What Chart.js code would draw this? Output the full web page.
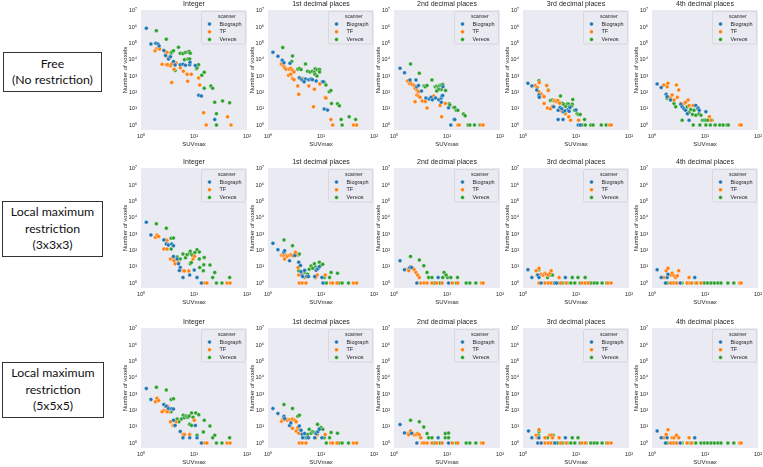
<!DOCTYPE html>
<html>
<head>
<meta charset="utf-8">
<script src="https://cdn.jsdelivr.net/npm/chart.js@4.4.1/dist/chart.umd.min.js"></script>
<style>
  body { margin: 0; background: #fff; }
  #wrap { position: relative; width: 763px; height: 467px; overflow: hidden; }
  #wrap canvas { position: absolute; }
  .rowlab {
    position: absolute; box-sizing: border-box; border: 1px solid #333;
    display: flex; align-items: center; justify-content: center; text-align: center;
    font-family: Lato, "Noto Sans", sans-serif; font-size: 12.3px; line-height: 16.5px; color: #111;
  }
</style>
</head>
<body>
<div id="wrap">
  <div class="rowlab" style="left:3px;top:52px;width:99px;height:40px">Free<br>(No restriction)</div>
  <div class="rowlab" style="left:2px;top:201px;width:101px;height:56px">Local maximum<br>restriction<br>(3x3x3)</div>
  <div class="rowlab" style="left:2px;top:362px;width:102px;height:56px">Local maximum<br>restriction<br>(5x5x5)</div>
</div>
<script>
// scanners and panel titles
const scanners = ['Biograph', 'TF', 'Vereos'];
const colTitles = ['Integer', '1st decimal places', '2nd decimal places', '3rd decimal places', '4th decimal places'];
const xTicks = [1, 10, 100];
const yTicks = [1, 10, 100, 1e3, 1e4, 1e5, 1e6, 1e7];

// ---- Free (no restriction) : [SUVmax, number of voxels]
const freeIntBio = [[1.26,8.5e5],[1.54,9e4],[1.9,1e5],[2.1,9e4],[2.2,7e4],[2.7,3.6e4],[2.9,1.8e4],[3.3,1.1e4],[3.6,1.5e4],[4.1,7.8e3],[4.4,4.8e3],[5.5,5e3],[6.2,5.2e3],[6.9,4.6e3],[8.3,5e3],[8.4,7e3],[10.6,4.4e3],[12.3,66],[13.8,60],[24.6,2.2]];
const freeIntTF = [[1.84,3.5e4],[2.0,5e4],[2.15,5e4],[2.25,4.5e4],[2.9,2.9e4],[3.1,2.9e4],[2.5,5.3e3],[3.0,5e3],[3.2,5e3],[3.3,1.4e4],[3.6,4.2e3],[3.8,5.5e3],[3.8,400],[4.2,2.6e3],[4.4,6.3e3],[4.6,6.3e3],[5.5,3.2e3],[6.3,2e3],[7.4,1.3e3],[7.6,480],[8.9,1.3e3],[12.2,760],[12.8,280],[15.2,5.7],[17,1],[43,3.2],[50,1]];
const freeIntVer = [[1.95,6e5],[3.0,1.8e5],[3.7,2.5e4],[3.8,3e4],[4.1,3.5e4],[5.1,5.8e4],[5.5,2.5e4],[6.2,2.4e4],[6.9,2.8e4],[7.6,3e4],[8.1,3.2e4],[8.5,2.5e4],[6.6,1e4],[7.7,1.1e4],[8.3,1.1e4],[4.4,2.2e3],[11.1,2.8e3],[11.4,3.2e3],[12.2,5e3],[14,1.1e3],[15.6,1.7e3],[15.6,180],[20.8,250],[22.5,180],[24.6,25],[34.6,30],[47,23],[26.5,5],[26.5,1]];

const freeD1Bio = [[1.24,2.9e4],[1.54,1.6e4],[1.86,9.3e3],[2.0,6.6e3],[2.6,6e3],[3.9,800],[4.2,650],[4.5,550],[5.1,650],[5.9,600],[6.5,650],[6.9,600],[8.1,500],[4.8,450],[10.6,450],[11.0,450],[11.5,9.6],[13.3,8.3]];
const freeD1TF = [[1.78,5.5e3],[1.9,4.5e3],[2.0,4e3],[2.05,3.2e3],[2.2,2.6e3],[2.5,2.6e3],[2.7,3e3],[2.9,2.3e3],[2.45,1.1e3],[2.7,1.3e3],[3.1,1.8e3],[2.9,700],[3.1,600],[3.65,250],[3.8,76],[3.9,730],[4.5,700],[4.9,600],[5.9,250],[7.5,155],[7.2,13],[9.5,330],[12,48],[12.4,45],[15.4,2.2],[16.6,1],[41,1],[47,1]];
const freeD1Ver = [[1.9,5.5e4],[2.9,1.7e4],[2.8,7.8e3],[3.65,2.6e3],[3.9,2.9e3],[4.2,2.5e3],[5.1,5.5e3],[5.6,2e3],[6.2,1.8e3],[6.9,2e3],[7.5,1.8e3],[7.8,2.8e3],[8.5,2.4e3],[9.4,2.5e3],[9.4,1.8e3],[7.7,1.3e3],[8.4,1e3],[11.5,420],[12.4,280],[14.3,110],[15.4,130],[15.8,21],[20.5,20],[22.2,15],[24,2.2],[25,1],[34,3.2],[45,2.2]];

const freeD2Bio = [[1.3,3e3],[1.58,1.6e3],[2.0,580],[2.6,580],[2.7,220],[2.9,260],[3.3,120],[4.0,45],[4.6,40],[5.0,50],[5.3,35],[6.1,45],[7.0,35],[7.8,45],[8.0,60],[8.3,65],[7.8,25],[8.4,220],[10.7,11.5],[13.6,2.2],[14,2.2],[11.8,1]];
const freeD2TF = [[1.8,500],[1.95,350],[2.05,420],[2.2,300],[2.4,260],[2.5,180],[2.7,140],[2.9,110],[2.7,70],[2.9,60],[3.1,50],[2.5,27],[3.4,30],[3.9,28],[4.2,11],[5.2,50],[5.6,60],[7.4,16],[7.9,3.2],[9.3,21],[16,1],[17,1],[45,1],[48,1]];
const freeD2Ver = [[2.05,5.5e3],[3.0,1.5e3],[3.7,250],[3.9,220],[4.2,260],[5.2,580],[6.0,220],[6.4,240],[6.9,220],[7.3,260],[7.8,280],[8.3,300],[7.8,150],[6.9,150],[6.4,120],[9.4,130],[11,20],[11.3,17],[13.4,12],[14,12],[15,8],[16,8],[20.5,4.7],[22,3.7],[25,1],[27,1],[33,1],[42,1]];

const freeD3Bio = [[1.24,360],[1.47,250],[1.82,140],[2.0,69],[2.03,50],[3.8,13],[4.6,8],[5.0,12],[5.4,10],[5.8,6.5],[6.2,7.5],[7.1,9],[7.7,12],[7.4,7],[4.6,2.2],[5.7,2.2],[10,8.3],[11,1],[12,1]];
const freeD3TF = [[1.7,260],[1.85,200],[2.03,400],[2.0,110],[2.2,80],[2.4,60],[2.5,55],[2.8,260],[3.0,130],[2.5,21],[2.9,11],[3.3,10],[3.6,14],[3.9,32],[4.2,28],[4.5,32],[4.9,22],[5.1,12],[5.4,7],[6.3,5],[7.3,3.2],[7.9,2],[11.2,2],[43,1],[46,1]];
const freeD3Ver = [[2.0,520],[3.0,140],[3.3,32],[3.6,34],[3.85,30],[5.1,60],[4.7,28],[5.5,22],[5.9,18],[6.4,14],[6.9,20],[7.3,19],[7.5,14],[8.7,37],[8.5,19],[8.2,14],[9.4,8],[10.5,5],[11.2,4.5],[12,4.5],[14.5,2.2],[13,1],[15,1],[19,1],[21,1],[30,1],[37,1]];

const freeD4Bio = [[1.25,330],[1.49,200],[1.85,76],[1.93,55],[2.24,34],[3.5,19],[3.7,13],[4.0,10],[4.3,8],[4.65,5],[5.0,2],[6.7,16],[7.4,11],[7.8,8],[10.4,6.6]];
const freeD4TF = [[1.67,280],[1.93,220],[2.0,360],[2.1,50],[2.24,45],[2.4,70],[2.6,34],[3.0,50],[2.9,280],[3.2,140],[3.5,21],[4.0,21],[4.3,25],[4.8,34],[5.0,16],[6.0,16],[12.1,3.2],[13,2],[45,1],[48,1]];
const freeD4Ver = [[1.93,44],[2.6,21],[2.8,13],[3.7,2],[4.3,8],[4.6,13],[5.0,6],[5.4,9],[5.8,4.5],[6.2,8],[6.7,4],[7.2,10],[7.7,5],[8.4,4],[9,2],[9.7,2],[10.4,2],[11.3,2],[13.5,2],[6,1],[8,1],[10.4,1],[12.6,1],[15.5,1],[19,1],[22,1],[26,1],[27.5,1],[48,1]];

// ---- Local maximum restriction 3x3x3
const lm3IntBio = [[1.26,5.3e3],[1.54,880],[2.7,440],[3.0,245],[3.3,215],[3.8,250],[4.1,195],[4.1,43],[4.8,30],[5.1,15],[5.5,9],[5.3,5.8],[6.2,2.2],[8.3,3.1],[10.1,6.3],[11.4,2.2],[13.8,1]];
const lm3IntTF = [[1.87,630],[2.0,870],[2.15,720],[2.9,460],[3.1,400],[3.2,245],[3.0,245],[2.7,120],[3.1,120],[3.6,30],[4.0,36],[4.2,23],[4.4,15],[5.1,19],[6.2,5.7],[6.6,5.5],[8,5.5],[9.6,30],[10.2,44],[16,1],[17.5,1],[42,1],[48,1]];
const lm3IntVer = [[1.95,4.2e3],[3.0,2.3e3],[3.7,550],[4.1,570],[3.7,120],[4.8,40],[5.5,30],[6.2,60],[6.9,35],[7.4,55],[8.3,65],[8.5,90],[8.9,60],[9.4,50],[10.4,75],[11.4,110],[12.6,80],[12.6,30],[8.5,15],[8.9,18],[12.8,9],[15,5.7],[15.3,13],[15.6,37],[20,12.7],[22.5,2.2],[24.6,4.5],[26.5,1],[33.7,1],[47,2.2]];

const lm3D1Bio = [[1.24,270],[1.54,110],[2.0,76],[2.06,95],[2.55,23],[3.2,48],[3.8,19],[4.1,12],[4.2,5],[4.4,3],[4.5,2.5],[4.9,6],[5.4,2.5],[5.8,2.5],[7.6,2.5],[8.1,6],[8.7,7.5],[9.3,10],[10.4,2.2],[10.9,1]];
const lm3D1TF = [[1.8,50],[1.9,55],[2.0,47],[2.2,50],[2.3,43],[2.55,50],[2.7,55],[2.9,47],[3.2,60],[3.4,55],[2.06,30],[3.3,76],[3.8,19],[3.7,9],[3.8,3.1],[4.4,3.5],[4.9,2.2],[3.9,1],[4.4,1],[5.2,1],[7.9,2.2],[8.5,3.1],[12,3.1],[15.3,1],[16.6,1],[20,1],[41,1],[47,1]];
const lm3D1Ver = [[2.0,440],[2.9,195],[3.65,52],[3.9,60],[3.8,5.7],[4.9,4.5],[5.6,3.5],[6.0,7],[6.5,11],[7.0,8],[7.5,15],[8.0,9.5],[8.6,8],[9.3,19],[10.0,12.5],[10.8,14],[7.8,2.2],[11.5,2.2],[14.5,2.2],[15.5,4.5],[20.5,4],[12.6,1],[21.7,1],[25,1],[33,1]];

const lm3D2Bio = [[1.3,23],[1.58,6.6],[2.0,9],[2.14,9],[2.7,1],[6.8,2.2],[10.7,1]];
const lm3D2TF = [[1.85,7.2],[1.9,5.7],[2.05,10.5],[2.3,8],[2.4,6.6],[2.6,4.5],[2.8,3.1],[3.0,2.2],[3.2,1],[3.7,1],[4.2,1],[5.2,1],[6.4,1],[8.1,1],[12.6,1],[16,1],[45,1],[48,1]];
const lm3D2Ver = [[2.05,43],[3.0,26],[3.65,11.5],[4.2,4.5],[4.5,2.2],[5.2,2.2],[8.3,2.2],[10.3,2.2],[11.8,2.2],[15.8,2.2],[8.8,4.5],[9.6,3.1],[5.8,1],[7.4,1],[15,1],[23,1],[27,1],[35,1],[45,1]];

const lm3D3Bio = [[1.24,6.6],[1.47,2.2],[1.9,3.1],[2.0,2.2],[2.2,1],[4.0,1],[4.3,1],[6.3,2.2]];
const lm3D3TF = [[1.77,5.7],[2.0,8],[1.85,3.1],[2.2,3.5],[2.4,3.1],[2.6,4],[2.75,3.5],[3.0,3.1],[3.25,4],[3.4,5.7],[4.8,2.2],[2.0,1],[2.6,1],[3.0,1],[3.4,1],[3.9,1],[5.1,1],[6.5,1],[12.9,1],[14.9,1],[17,1],[40,1],[46,1]];
const lm3D3Ver = [[2.0,6.6],[2.9,2.2],[3.3,3.1],[3.6,3.1],[8.5,2.2],[10.9,2.2],[14.9,2.2],[3.6,1],[4.5,1],[5.5,1],[6.8,1],[8,1],[9.5,1],[12,1],[15.5,1],[19,1],[22,1],[25,1],[31,1],[38,1]];

const lm3D4Bio = [[1.25,6.6],[1.49,2.2],[1.93,2.2],[2.0,3.5],[6.4,2.2],[1.8,1],[3.4,1]];
const lm3D4TF = [[1.67,2.2],[1.85,5.7],[2.0,8],[2.24,3.1],[2.4,4],[2.6,2.8],[2.8,2.2],[3.0,2.8],[3.2,5.7],[5.0,2.2],[2.24,1],[2.6,1],[2.9,1],[3.5,1],[4.6,1],[5.2,1],[5.6,1],[7,1],[8.4,1],[45,1],[48,1]];
const lm3D4Ver = [[1.93,1],[2.4,1],[3.7,1],[4.7,1],[5.4,1],[6.7,1],[8.4,1],[9.7,1],[11.2,1],[13,1],[15,1],[17.5,1],[20,1],[27,1],[35,1]];

// ---- Local maximum restriction 5x5x5
const lm5IntBio = [[1.26,2.2e3],[1.54,470],[2.7,230],[3.0,180],[3.3,130],[3.8,125],[4.1,120],[4.1,25],[4.4,12],[5.5,5.2],[6.2,2.1],[8.3,2.1],[10.6,12],[11.4,2.1],[13.8,1]];
const lm5IntTF = [[1.87,340],[2.0,550],[2.15,400],[2.7,100],[2.9,180],[3.1,100],[3.2,180],[3.3,82],[2.5,82],[3.1,82],[3.6,20],[4.0,12],[4.2,12],[4.6,20],[6.2,3.3],[6.6,3.3],[8.3,3.3],[10.1,25],[16,1],[17.5,1],[42,1],[48,1]];
const lm5IntVer = [[1.95,2.6e3],[3.0,1.8e3],[3.7,470],[4.1,510],[3.7,82],[4.8,30],[5.2,20],[5.8,30],[6.3,50],[6.6,35],[7.1,45],[7.6,38],[8.1,45],[9.0,70],[9.6,38],[10.8,70],[8.3,14],[9.0,12],[11.4,3],[12.3,55],[15,4.8],[15.6,25],[20,11],[22.5,2.1],[24.6,3],[26.5,1],[33.7,1],[47,2.1]];

const lm5D1Bio = [[1.24,130],[1.54,65],[2.0,44],[2.06,32],[2.55,12],[2.7,17],[3.9,11],[4.2,6],[4.4,3.5],[4.5,2.1],[4.9,3.8],[5.4,2.1],[5.8,2.1],[7.6,2.1],[8.1,3.8],[8.7,5],[9.3,7],[10.4,2.1]];
const lm5D1TF = [[1.8,22],[1.9,30],[2.0,27],[2.2,30],[2.3,25],[2.55,27],[2.7,22],[2.9,30],[3.2,25],[3.4,20],[3.65,9],[2.9,8],[3.4,5.5],[3.8,4],[3.9,1],[4.4,1],[5.2,1],[7.9,2.1],[8.5,3.3],[12,3.3],[15.3,1],[16.6,1],[20,1],[41,1],[47,1]];
const lm5D1Ver = [[2.0,230],[2.9,130],[3.65,44],[3.9,50],[3.8,7.5],[4.9,2.1],[5.6,3.3],[6.0,7],[6.5,4],[7.0,5],[7.5,4.5],[8.0,4.3],[8.6,14],[9.3,8],[10.0,9],[10.8,7],[7.8,2.1],[11.5,2.1],[14.5,2.1],[15.5,4.5],[20.5,4],[12.6,1],[21.7,1],[25,1],[33,1]];

const lm5D2Bio = [[1.3,13.5],[1.58,4.2],[2.14,4],[2.7,1],[6.8,2.1],[10.7,1]];
const lm5D2TF = [[1.85,3.8],[1.9,3.2],[2.05,5.5],[2.3,3.8],[2.4,3.2],[2.6,3.2],[2.8,3.8],[3.0,3.2],[3.2,2.1],[3.4,1],[3.7,1],[4.2,1],[5.2,1],[6.4,1],[8.1,1],[12.6,1],[16,1],[45,1],[48,1]];
const lm5D2Ver = [[2.05,25],[3.0,20],[3.65,9.7],[4.2,3.8],[4.5,2.1],[5.2,2.1],[9.3,2.1],[10.7,2.1],[9.3,3.8],[10.7,4.1],[5.8,1],[7.4,1],[15,1],[23,1],[27,1],[35,1],[45,1]];

const lm5D3Bio = [[1.27,5.5],[1.47,2.1],[2.0,2.1],[6.3,2.1],[1.9,1],[2.2,1],[4.0,1]];
const lm5D3TF = [[1.77,3],[2.0,6.6],[1.85,2.1],[2.0,2.1],[2.6,2.1],[3.2,3],[3.45,3],[3.6,2.1],[4.8,2.1],[2.2,1],[2.6,1],[3.0,1],[3.4,1],[3.9,1],[5.1,1],[6.5,1],[12.9,1],[14.9,1],[40,1],[46,1]];
const lm5D3Ver = [[2.0,5.2],[1.95,3],[2.9,2.1],[3.3,3],[3.6,3],[3.7,3],[8.5,2.1],[10.9,2.1],[3.6,1],[4.5,1],[5.5,1],[6.8,1],[8,1],[9.5,1],[12,1],[15.5,1],[19,1],[22,1],[25,1],[31,1],[38,1]];

const lm5D4Bio = [[1.25,5.5],[1.49,2.1],[1.93,2.1],[6.4,2.1],[1.8,1],[3.4,1]];
const lm5D4TF = [[1.67,2.1],[1.85,3.3],[2.0,6.6],[2.4,2.1],[2.6,2.1],[2.9,3],[3.2,2.1],[5.0,2.1],[2.24,1],[2.6,1],[2.9,1],[3.5,1],[4.6,1],[5.6,1],[45,1],[48,1]];
const lm5D4Ver = [[1.93,1],[2.4,1],[3.7,1],[4.7,1],[5.4,1],[6.7,1],[8.4,1],[9.7,1],[11.2,1],[13,1],[15,1],[17.5,1],[20,1],[27,1],[35,1]];

// row-major list of panels
const panels = [
  [freeIntBio, freeIntTF, freeIntVer], [freeD1Bio, freeD1TF, freeD1Ver], [freeD2Bio, freeD2TF, freeD2Ver], [freeD3Bio, freeD3TF, freeD3Ver], [freeD4Bio, freeD4TF, freeD4Ver],
  [lm3IntBio, lm3IntTF, lm3IntVer], [lm3D1Bio, lm3D1TF, lm3D1Ver], [lm3D2Bio, lm3D2TF, lm3D2Ver], [lm3D3Bio, lm3D3TF, lm3D3Ver], [lm3D4Bio, lm3D4TF, lm3D4Ver],
  [lm5IntBio, lm5IntTF, lm5IntVer], [lm5D1Bio, lm5D1TF, lm5D1Ver], [lm5D2Bio, lm5D2TF, lm5D2Ver], [lm5D3Bio, lm5D3TF, lm5D3Ver], [lm5D4Bio, lm5D4TF, lm5D4Ver]
];

// layout
const colors = ['#1f77b4', '#ff7f0e', '#2ca02c'];
const colLefts = [141, 268, 394, 523, 652];
const rowTops = [10, 168, 328];
const plotW = 106, plotH = 120;
const padL = 30, padT = 13, padR = 6, padB = 20;
const FONT = '"Liberation Sans", Arial, sans-serif';
const TEXT = '#262626';

const SUP = ['\u2070', '\u00b9', '\u00b2', '\u00b3', '\u2074', '\u2075', '\u2076', '\u2077'];
function tickLabel(v) {
  const e = Math.round(Math.log10(v));
  return '10' + SUP[e];
}

// background, panel title and legend box
const panelDecor = {
  id: 'panelDecor',
  beforeDraw(chart, args, opts) {
    const a = chart.chartArea, ctx = chart.ctx;
    ctx.save();
    ctx.fillStyle = '#EAEAF2';
    ctx.fillRect(a.left, a.top, a.right - a.left, a.bottom - a.top);
    ctx.fillStyle = TEXT;
    ctx.font = '7px ' + FONT;
    ctx.textAlign = 'center';
    ctx.textBaseline = 'middle';
    ctx.fillText(opts.title, (a.left + a.right) / 2, a.top - 5.5);
    ctx.restore();
  },
  afterDatasetsDraw(chart) {
    const a = chart.chartArea, ctx = chart.ctx;
    const lw = 44, lh = 32.5;
    const lx = a.right - lw - 1.5, ly = a.top + 1.5;
    ctx.save();
    ctx.beginPath();
    ctx.roundRect(lx, ly, lw, lh, 1.5);
    ctx.fillStyle = 'rgba(234,234,242,0.8)';
    ctx.fill();
    ctx.strokeStyle = '#d2d2d8';
    ctx.lineWidth = 0.8;
    ctx.stroke();
    ctx.textAlign = 'left';
    ctx.textBaseline = 'middle';
    ctx.fillStyle = TEXT;
    ctx.font = '5px ' + FONT;
    ctx.fillText('scanner', lx + 16.5, ly + 4.7);
    ctx.font = '5.5px ' + FONT;
    const rows = [12.6, 20.3, 28];
    scanners.forEach((s, i) => {
      ctx.beginPath();
      ctx.arc(lx + 8, ly + rows[i], 2, 0, Math.PI * 2);
      ctx.fillStyle = colors[i];
      ctx.fill();
      ctx.strokeStyle = '#fff';
      ctx.lineWidth = 0.4;
      ctx.stroke();
      ctx.fillStyle = TEXT;
      ctx.fillText(s, lx + 18, ly + rows[i]);
    });
    ctx.restore();
  }
};

const wrap = document.getElementById('wrap');
panels.forEach((series, i) => {
  const r = Math.floor(i / 5), c = i % 5;
  const w = padL + plotW + padR, h = padT + plotH + padB;
  const cv = document.createElement('canvas');
  cv.width = w; cv.height = h;
  cv.style.width = w + 'px'; cv.style.height = h + 'px';
  cv.style.left = (colLefts[c] - padL) + 'px';
  cv.style.top = (rowTops[r] - padT) + 'px';
  wrap.appendChild(cv);

  new Chart(cv, {
    type: 'scatter',
    data: {
      datasets: series.map((pts, k) => ({
        label: scanners[k],
        data: pts,
        backgroundColor: colors[k],
        borderColor: '#ffffff',
        borderWidth: 0.4,
        pointRadius: 2
      }))
    },
    options: {
      responsive: false,
      animation: false,
      layout: { padding: { left: 0, top: padT, right: padR, bottom: 0 } },
      scales: {
        x: {
          type: 'logarithmic', min: 1, max: 100,
          afterBuildTicks: s => { s.ticks = xTicks.map(v => ({ value: v })); },
          afterFit: s => { s.height = padB; s.paddingLeft = 0; s.paddingRight = 0; },
          grid: { display: false, drawTicks: false },
          border: { display: false },
          ticks: { font: { size: 5.5, family: FONT }, color: TEXT, padding: 3, maxRotation: 0, autoSkip: false, callback: v => tickLabel(v) },
          title: { display: true, text: 'SUVmax', font: { size: 6, family: FONT }, color: TEXT, padding: { top: 0, bottom: 2.4 } }
        },
        y: {
          type: 'logarithmic', min: 0.5, max: 1.1e7,
          afterBuildTicks: s => { s.ticks = yTicks.map(v => ({ value: v })); },
          afterFit: s => { s.width = padL; s.paddingTop = 0; s.paddingBottom = 0; },
          grid: { display: false, drawTicks: false },
          border: { display: false },
          ticks: { font: { size: 5.5, family: FONT }, color: TEXT, padding: 4, autoSkip: false, callback: v => tickLabel(v) },
          title: { display: true, text: 'Number of voxels', font: { size: 6, family: FONT }, color: TEXT, padding: { top: 10.4, bottom: 0 } }
        }
      },
      plugins: {
        legend: { display: false },
        tooltip: { enabled: false },
        panelDecor: { title: colTitles[c] }
      }
    },
    plugins: [panelDecor]
  });
});
</script>
</body>
</html>
